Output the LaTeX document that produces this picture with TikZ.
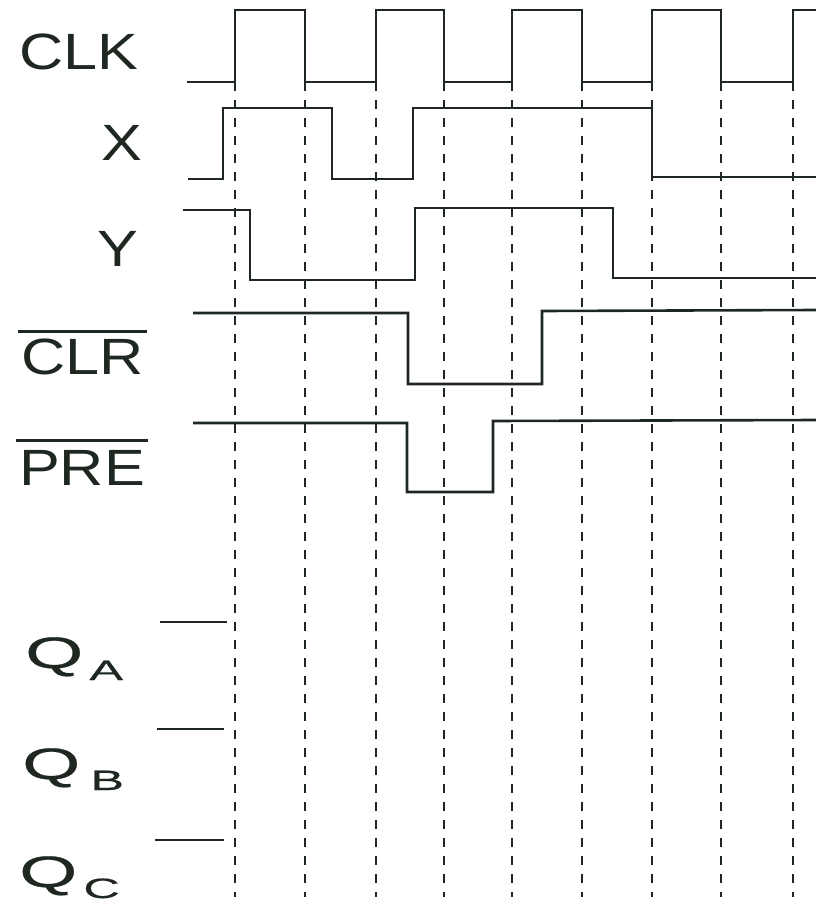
\documentclass[tikz,border=0pt]{standalone}
\usepackage{fontspec}
\newfontfamily\labfont{Liberation Sans}[FakeStretch=1.2]
\newfontfamily\qfont{Liberation Sans}[FakeStretch=1.7,FakeBold=0.6]
\newfontfamily\subfont{Liberation Sans}[FakeStretch=1.8,FakeBold=0.6]
\definecolor{ink}{RGB}{30,40,33}
\tikzset{
  wave/.style={draw=ink,line width=2.6pt,line join=miter},
  tick/.style={draw=ink,line width=2.6pt,dash pattern=on 9pt off 9pt},
  bar/.style={draw=ink,line width=2.8pt},
  siglabel/.style={inner sep=0pt,text=ink,font=\labfont\fontsize{51}{55}\selectfont},
  qlabel/.style={inner sep=0pt,text=ink,font=\qfont\fontsize{44}{48}\selectfont,anchor=base west}
}
\newcommand{\qsub}[3]{Q\hspace{#2}\raisebox{-#3}{\subfont\fontsize{28}{30}\selectfont #1}}
\begin{document}
\begin{tikzpicture}[x=1pt,y=-1pt]
\useasboundingbox (0,0) rectangle (816,907);
\foreach \t in {235,305,376,444,512,582,652,721,793}
  \draw[tick] (\t,82) -- (\t,897);
\draw[wave] (187,82) -- (235,82) -- (235,10) -- (305,10) -- (305,82) -- (376,82) -- (376,10)
  -- (444,10) -- (444,82) -- (512,82) -- (512,10) -- (582,10) -- (582,82) -- (652,82)
  -- (652,10) -- (721,10) -- (721,82) -- (793,82) -- (793,10) -- (816,10);
\draw[wave] (188,179) -- (223,179) -- (223,108) -- (332,108) -- (332,179) -- (413,179)
  -- (413,108) -- (652,108) -- (652,177) -- (816,177);
\draw[wave] (183,210) -- (250,210) -- (250,280) -- (415,280) -- (415,208) -- (613,208)
  -- (613,278) -- (816,278);
\draw[wave] (193,313) -- (408,313) -- (408,384) -- (542,384) -- (542,311) -- (816,310);
\draw[wave] (193,423) -- (407,423) -- (407,492) -- (493,492) -- (493,421) -- (816,420);
\draw[wave] (160,622) -- (227,622);
\draw[wave] (157,729) -- (224,729);
\draw[wave] (155,840) -- (224,840);
\node[siglabel] (clk) at (79,51.5) {CLK};
\node[siglabel] (x) at (121.5,142.5) {X};
\node[siglabel] (y) at (117.5,248.5) {Y};
\node[siglabel] (clr) at (82.5,356.5) {CLR};
\node[siglabel] (pre) at (82,468) {PRE};
\draw[bar] ([shift={(-3pt,7pt)}]clr.north west) -- ([shift={(3pt,7pt)}]clr.north east);
\draw[bar] ([shift={(-3pt,10pt)}]pre.north west) -- ([shift={(3pt,10pt)}]pre.north east);
\node[qlabel] (qa) at (25,668) {\qsub{A}{6pt}{12pt}};
\node[qlabel] (qb) at (22,779) {\qsub{B}{10pt}{11pt}};
\node[qlabel] (qc) at (19,887) {\qsub{C}{6pt}{11pt}};
\end{tikzpicture}
\end{document}
